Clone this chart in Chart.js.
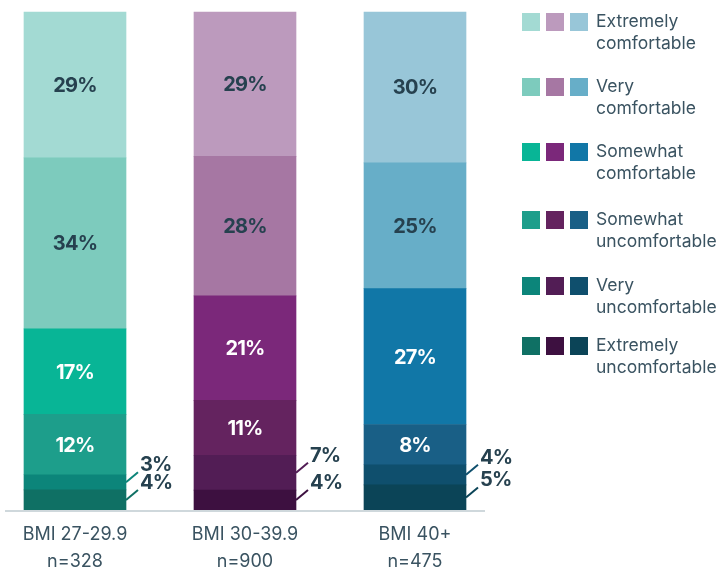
<!DOCTYPE html>
<html>
<head>
<meta charset="utf-8">
<script src="https://cdn.jsdelivr.net/npm/chart.js@4/dist/chart.umd.min.js"></script>
<style>
  html, body { margin: 0; padding: 0; background: #fff; }
</style>
</head>
<body>
<canvas id="chart" width="719" height="569"></canvas>
<script>
// categories (x axis, two lines each)
const categories = [["BMI 27-29.9", "n=328"], ["BMI 30-39.9", "n=900"], ["BMI 40+", "n=475"]];

// answer levels, top of the stack first
const levelLines = [
    ["Extremely", "comfortable"],
    ["Very", "comfortable"],
    ["Somewhat", "comfortable"],
    ["Somewhat", "uncomfortable"],
    ["Very", "uncomfortable"],
    ["Extremely", "uncomfortable"]
];

// values per category, in %
const extremelyComfortable = [29, 29, 30];
const veryComfortable = [34, 28, 25];
const somewhatComfortable = [17, 21, 27];
const somewhatUncomfortable = [12, 11, 8];
const veryUncomfortable = [3, 7, 4];
const extremelyUncomfortable = [4, 4, 5];

// colour ramps per category, same order as levelLines
const tealColors = ["#a3dad3", "#7dcbbd", "#08b596", "#1d9e8b", "#0c857a", "#0f7064"];
const purpleColors = ["#bc9abd", "#a677a3", "#7b287a", "#64235f", "#521d55", "#3d1040"];
const blueColors = ["#98c6d8", "#67aec8", "#1177a7", "#195f86", "#0f4f6d", "#0b4457"];

const series = [extremelyComfortable, veryComfortable, somewhatComfortable,
    somewhatUncomfortable, veryUncomfortable, extremelyUncomfortable];
const ramps = [tealColors, purpleColors, blueColors];

const darkText = "#26414f";
const labelText = "#3a5361";
const fontFamily = "Inter, 'Noto Sans', sans-serif";

// every bar is filled to 100 (the rounded numbers don't always add up)
const totals = categories.map((c, i) => series.reduce((s, arr) => s + arr[i], 0));

// bottom of the stack first for Chart.js
const datasets = series.map((values, lvl) => ({
    label: levelLines[lvl].join(" "),
    level: lvl,
    raw: values,
    data: values.map((v, i) => v / totals[i] * 100),
    backgroundColor: ramps.map(r => r[lvl]),
    borderWidth: 0,
    barThickness: 102,
    clip: false
})).reverse();

const labelPlugin = {
    id: "segmentLabels",
    afterDatasetsDraw(chart) {
        const ctx = chart.ctx;
        ctx.save();
        // axis line
        const metas = chart.getSortedVisibleDatasetMetas();
        const firstBar = metas[0].data[0];
        const lastBar = metas[0].data[categories.length - 1];
        ctx.strokeStyle = "#cfd8dc";
        ctx.lineWidth = 2;
        ctx.beginPath();
        ctx.moveTo(firstBar.x - firstBar.width / 2 - 19, chart.chartArea.bottom + 1);
        ctx.lineTo(lastBar.x + lastBar.width / 2 + 19, chart.chartArea.bottom + 1);
        ctx.stroke();

        ctx.font = "bold 20px " + fontFamily;
        ctx.letterSpacing = "-0.8px";
        chart.data.datasets.forEach((ds, di) => {
            const meta = chart.getDatasetMeta(di);
            meta.data.forEach((bar, i) => {
                const text = ds.raw[i] + "%";
                const midY = (bar.y + bar.base) / 2;
                if (ds.level >= 4) {
                    // small segments: label outside with a leader line
                    const x0 = bar.x + bar.width / 2;
                    const x1 = x0 + 12;
                    const y1 = midY - 10;
                    ctx.strokeStyle = ramps[i][ds.level];
                    ctx.lineWidth = 2;
                    ctx.beginPath();
                    ctx.moveTo(x0, midY);
                    ctx.lineTo(x1, y1);
                    ctx.stroke();
                    ctx.fillStyle = darkText;
                    ctx.textAlign = "left";
                    ctx.textBaseline = "middle";
                    ctx.fillText(text, x1 + 2, y1 - 7);
                } else {
                    ctx.fillStyle = ds.level <= 1 ? darkText : "#ffffff";
                    ctx.textAlign = "center";
                    ctx.textBaseline = "middle";
                    ctx.fillText(text, bar.x, midY + 1);
                }
            });
        });
        ctx.restore();
    }
};

const legendPlugin = {
    id: "sideLegend",
    afterDraw(chart) {
        const ctx = chart.ctx;
        const rowTops = [13, 78, 143, 211, 277, 337];
        ctx.save();
        ctx.font = "17.5px " + fontFamily;
        ctx.textAlign = "left";
        ctx.textBaseline = "middle";
        levelLines.forEach((lines, lvl) => {
            const top = rowTops[lvl];
            ramps.forEach((r, k) => {
                ctx.fillStyle = r[lvl];
                ctx.fillRect(522 + k * 24, top, 18, 18);
            });
            ctx.fillStyle = labelText;
            lines.forEach((t, j) => {
                ctx.fillText(t, 596, top + 9 + j * 21.5);
            });
        });
        ctx.restore();
    }
};

new Chart(document.getElementById("chart").getContext("2d"), {
    type: "bar",
    data: { labels: categories, datasets: datasets },
    options: {
        responsive: false,
        animation: false,
        layout: { padding: { left: 75, right: 304, top: 12, bottom: 0 } },
        plugins: { legend: { display: false }, tooltip: { enabled: false } },
        scales: {
            x: {
                stacked: true,
                offset: false,
                grid: { display: false, drawTicks: false },
                border: { display: false },
                ticks: {
                    color: labelText,
                    font: { family: fontFamily, size: 18, lineHeight: 1.5 },
                    padding: 11,
                    maxRotation: 0,
                    autoSkip: false
                },
                afterFit(scale) { scale.height = 59; }
            },
            y: { stacked: true, display: false, min: 0, max: 100 }
        }
    },
    plugins: [labelPlugin, legendPlugin]
});
</script>
</body>
</html>
